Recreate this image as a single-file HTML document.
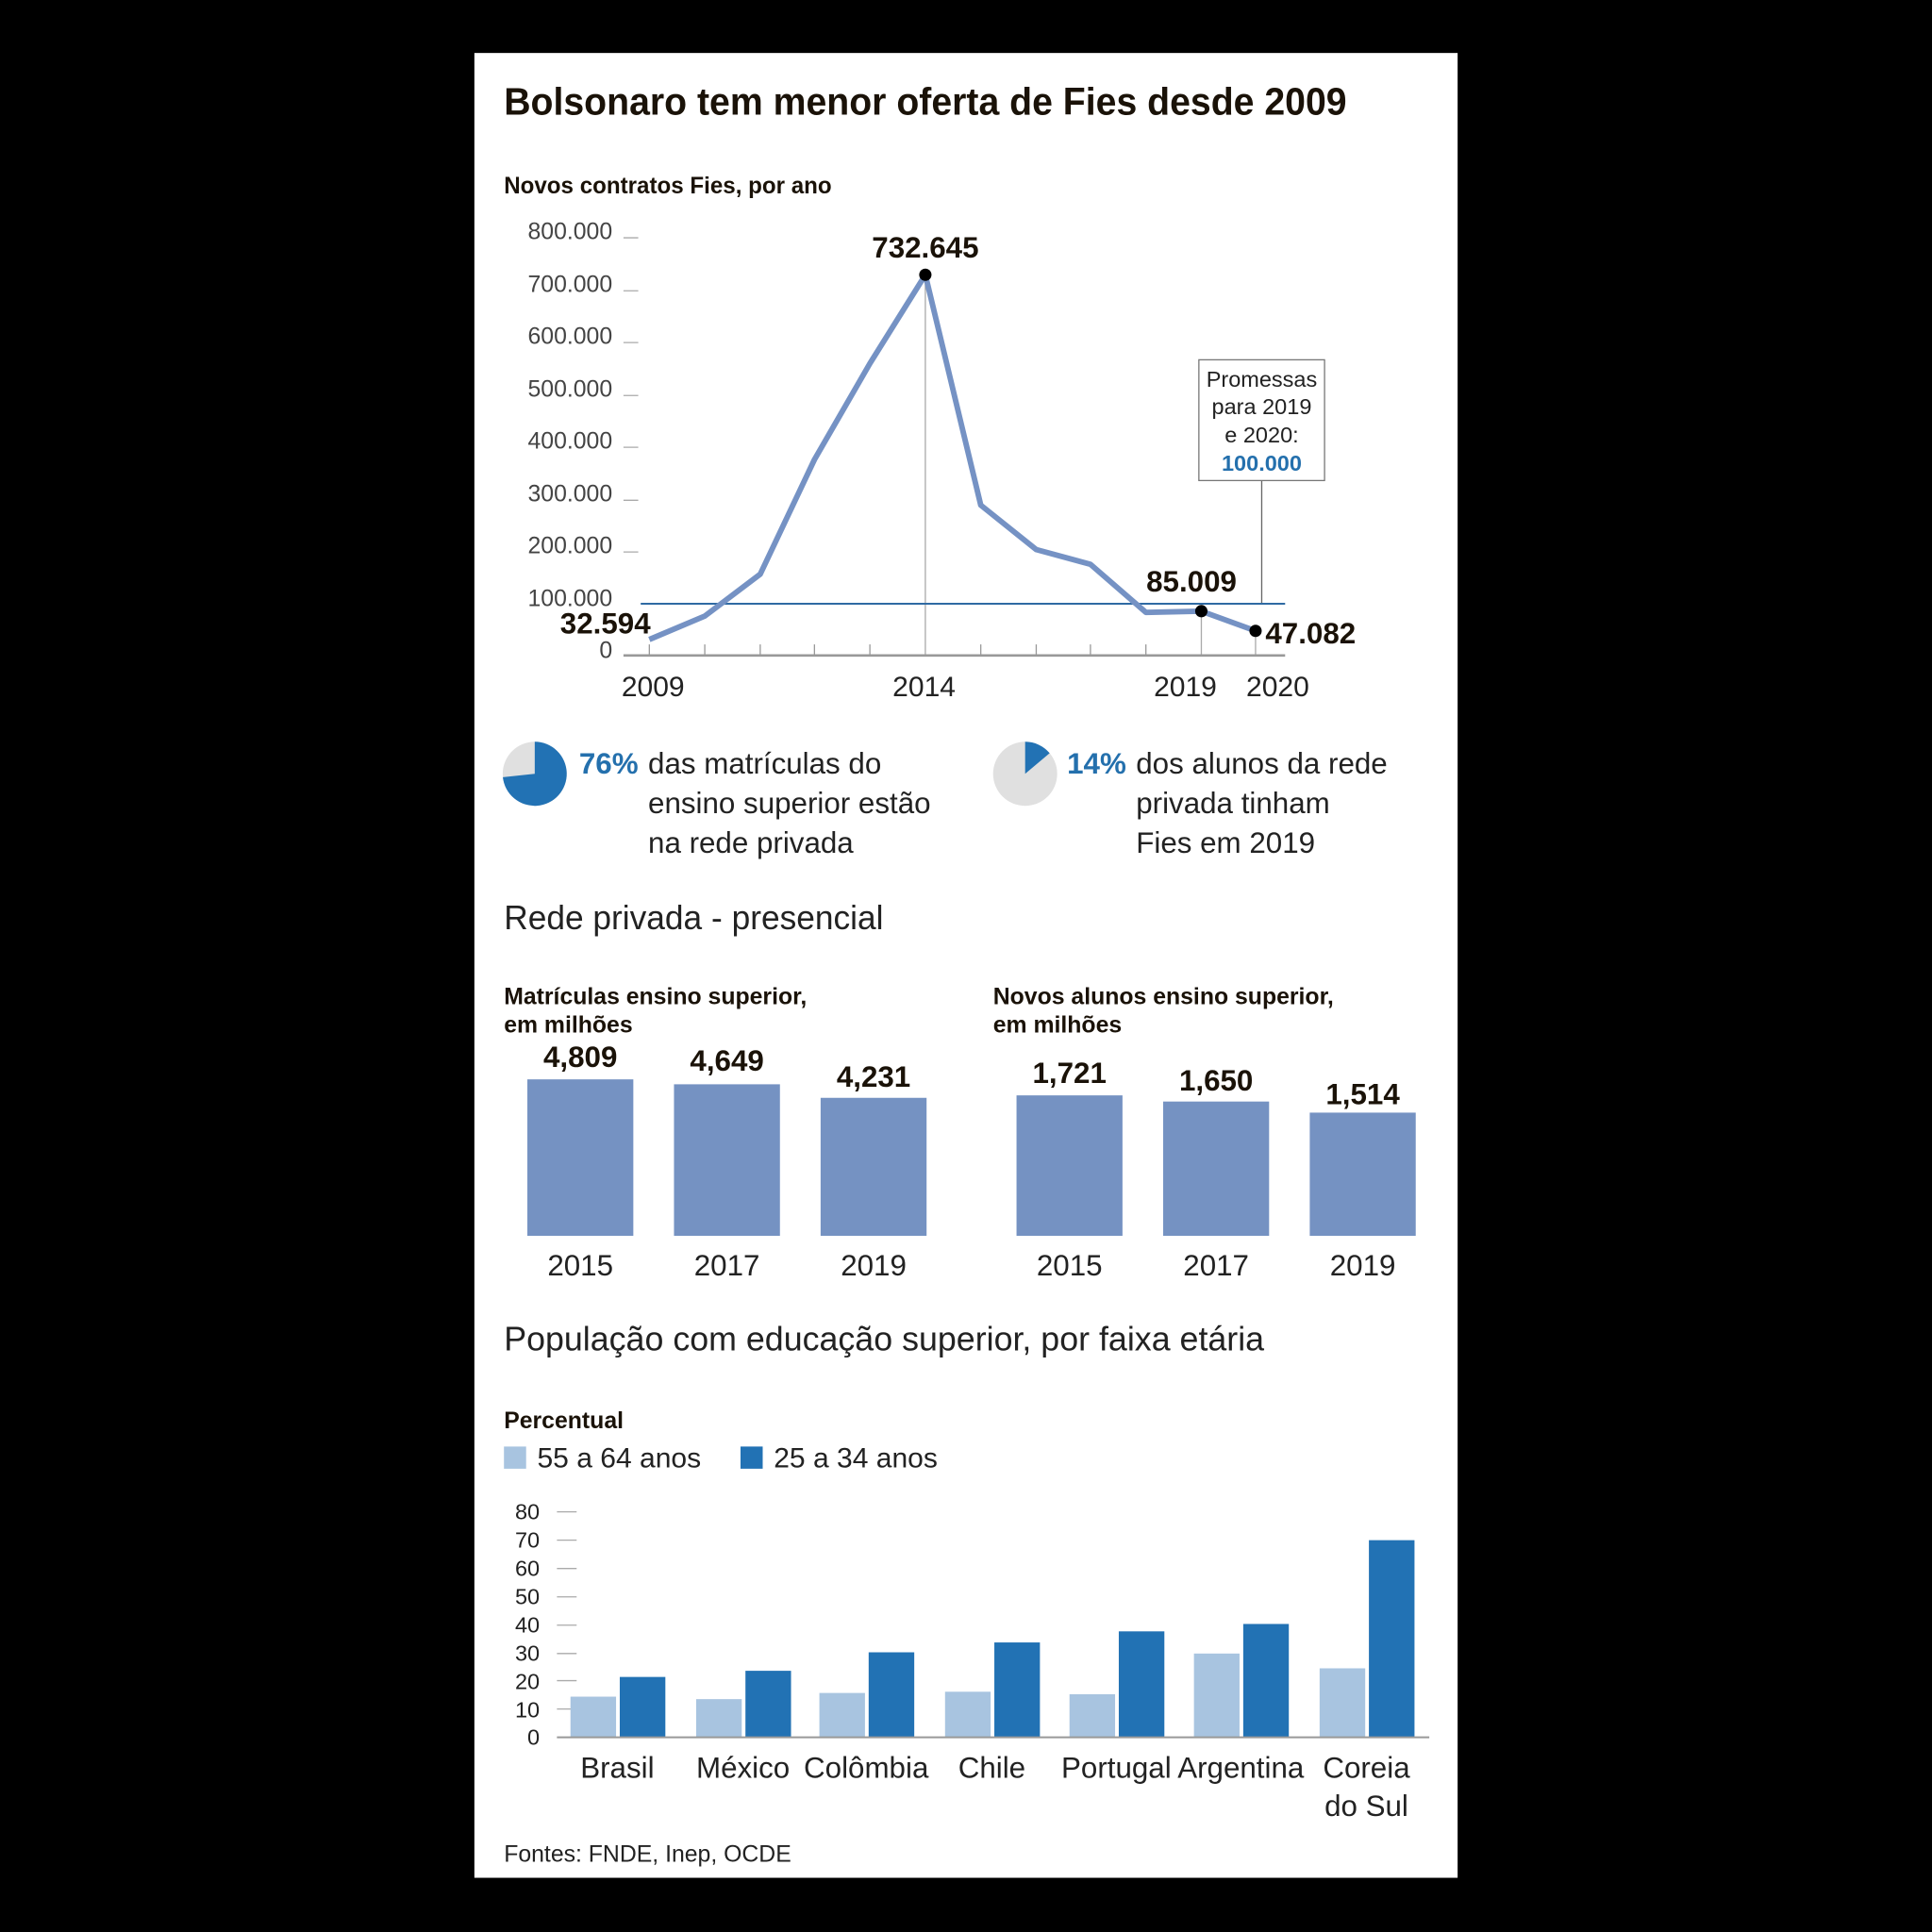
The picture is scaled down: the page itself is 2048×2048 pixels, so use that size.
<!DOCTYPE html>
<html><head><meta charset="utf-8"><style>
html,body{margin:0;padding:0;background:#000;}
svg{display:block}
text{font-family:"Liberation Sans Narrow","Liberation Sans",sans-serif;fill:#222}
.b{font-weight:bold;fill:#1a1208}
.ax{fill:#444;font-size:19px}
</style></head><body>
<svg width="2048" height="2048" viewBox="0 0 1568 1568" xmlns="http://www.w3.org/2000/svg">
<rect x="0" y="0" width="1568" height="1568" fill="#000"/>
<rect x="385" y="43" width="798" height="1481" fill="#fff"/>
<text x="409" y="93" class="b" font-size="31" textLength="684" lengthAdjust="spacingAndGlyphs">Bolsonaro tem menor oferta de Fies desde 2009</text>
<text x="409" y="157" class="b" font-size="19" textLength="266" lengthAdjust="spacingAndGlyphs">Novos contratos Fies, por ano</text>
<g class="ax" text-anchor="end">
<text x="497" y="194" class="ax">800.000</text>
<text x="497" y="237" class="ax">700.000</text>
<text x="497" y="279" class="ax">600.000</text>
<text x="497" y="322" class="ax">500.000</text>
<text x="497" y="364" class="ax">400.000</text>
<text x="497" y="407" class="ax">300.000</text>
<text x="497" y="449" class="ax">200.000</text>
<text x="497" y="492" class="ax">100.000</text>
<text x="497" y="534" class="ax">0</text>
</g>
<g stroke="#aaa" stroke-width="1">
<line x1="506" x2="518" y1="193" y2="193"/><line x1="506" x2="518" y1="236" y2="236"/>
<line x1="506" x2="518" y1="278" y2="278"/><line x1="506" x2="518" y1="321" y2="321"/>
<line x1="506" x2="518" y1="363" y2="363"/><line x1="506" x2="518" y1="406" y2="406"/>
<line x1="506" x2="518" y1="448" y2="448"/>
<line x1="751" x2="751" y1="223" y2="532"/>
<line x1="975" x2="975" y1="496" y2="532"/>
<line x1="1019" x2="1019" y1="512" y2="532"/>
<line x1="1024" x2="1024" y1="390" y2="490" stroke="#666"/>
</g>
<g stroke="#999" stroke-width="1">
<line x1="527" x2="527" y1="523" y2="532"/><line x1="572" x2="572" y1="523" y2="532"/>
<line x1="617" x2="617" y1="523" y2="532"/><line x1="661" x2="661" y1="523" y2="532"/>
<line x1="706" x2="706" y1="523" y2="532"/><line x1="796" x2="796" y1="523" y2="532"/>
<line x1="841" x2="841" y1="523" y2="532"/><line x1="885" x2="885" y1="523" y2="532"/>
<line x1="930" x2="930" y1="523" y2="532"/>
</g>
<line x1="506" x2="1043" y1="532" y2="532" stroke="#999" stroke-width="2"/>
<line x1="520" x2="1043" y1="490" y2="490" stroke="#2f6aa3" stroke-width="1.5"/>
<polyline fill="none" stroke="#7592c4" stroke-width="4.5" stroke-linejoin="round" points="527,519 572,500 617,466 661,373 706,295 751,223 796,410 841,446 885,458 930,497 975,496 1019,512"/>
<circle cx="751" cy="223" r="5" fill="#000"/><circle cx="975" cy="496" r="5" fill="#000"/><circle cx="1019" cy="512" r="5" fill="#000"/>
<text x="751" y="209" class="b" font-size="24" text-anchor="middle">732.645</text>
<text x="967" y="480" class="b" font-size="24" text-anchor="middle">85.009</text>
<text x="1027" y="522" class="b" font-size="24">47.082</text>
<text x="528" y="514" class="b" font-size="24" text-anchor="end">32.594</text>
<rect x="973" y="292" width="102" height="98" fill="#fff" stroke="#777" stroke-width="1"/>
<g text-anchor="middle" font-size="18">
<text x="1024" y="314" fill="#444">Promessas</text>
<text x="1024" y="336" fill="#444">para 2019</text>
<text x="1024" y="359" fill="#444">e 2020:</text>
<text x="1024" y="382" class="b" style="fill:#2470ad">100.000</text>
</g>
<g font-size="23" text-anchor="middle" fill="#222">
<text x="530" y="565">2009</text><text x="750" y="565">2014</text><text x="962" y="565">2019</text><text x="1037" y="565">2020</text>
</g>
<circle cx="434" cy="628" r="26" fill="#e0e0e0"/>
<path d="M434,628 L434,602 A26,26 0 1 1 408.1,630.8 Z" fill="#2272b4"/>
<circle cx="832" cy="628" r="26" fill="#e0e0e0"/>
<path d="M832,628 L832,602 A26,26 0 0 1 851.9,611.3 Z" fill="#2272b4"/>
<g font-size="24">
<text x="470" y="628" class="b" style="fill:#2470ad">76%</text>
<text x="526" y="628">das matrículas do</text>
<text x="526" y="660">ensino superior estão</text>
<text x="526" y="692">na rede privada</text>
<text x="866" y="628" class="b" style="fill:#2470ad">14%</text>
<text x="922" y="628">dos alunos da rede</text>
<text x="922" y="660">privada tinham</text>
<text x="922" y="692">Fies em 2019</text>
</g>
<text x="409" y="754" font-size="28" fill="#333" textLength="308" lengthAdjust="spacingAndGlyphs">Rede privada - presencial</text>
<g class="b" font-size="19">
<text x="409" y="815" class="b">Matrículas ensino superior,</text>
<text x="409" y="838" class="b">em milhões</text>
<text x="806" y="815" class="b">Novos alunos ensino superior,</text>
<text x="806" y="838" class="b">em milhões</text>
</g>
<g fill="#7592c2">
<rect x="428" y="876" width="86" height="127"/><rect x="547" y="880" width="86" height="123"/><rect x="666" y="891" width="86" height="112"/>
<rect x="825" y="889" width="86" height="114"/><rect x="944" y="894" width="86" height="109"/><rect x="1063" y="903" width="86" height="100"/>
</g>
<g text-anchor="middle" font-size="24">
<text x="471" y="866" class="b">4,809</text><text x="590" y="869" class="b">4,649</text><text x="709" y="882" class="b">4,231</text>
<text x="868" y="879" class="b">1,721</text><text x="987" y="885" class="b">1,650</text><text x="1106" y="896" class="b">1,514</text>
<text x="471" y="1035">2015</text><text x="590" y="1035">2017</text><text x="709" y="1035">2019</text>
<text x="868" y="1035">2015</text><text x="987" y="1035">2017</text><text x="1106" y="1035">2019</text>
</g>
<text x="409" y="1096" font-size="28" fill="#333" textLength="617" lengthAdjust="spacingAndGlyphs">População com educação superior, por faixa etária</text>
<text x="409" y="1159" class="b" font-size="19">Percentual</text>
<rect x="409" y="1174" width="18" height="18" fill="#a8c4e0"/>
<text x="436" y="1191" font-size="23">55 a 64 anos</text>
<rect x="601" y="1174" width="18" height="18" fill="#2272b4"/>
<text x="628" y="1191" font-size="23">25 a 34 anos</text>
<g text-anchor="end" font-size="18" fill="#333">
<text x="438" y="1233">80</text><text x="438" y="1256">70</text><text x="438" y="1279">60</text><text x="438" y="1302">50</text>
<text x="438" y="1325">40</text><text x="438" y="1348">30</text><text x="438" y="1371">20</text><text x="438" y="1394">10</text><text x="438" y="1416">0</text>
</g>
<g stroke="#aaa">
<line x1="452" x2="468" y1="1227" y2="1227"/><line x1="452" x2="468" y1="1250" y2="1250"/><line x1="452" x2="468" y1="1273" y2="1273"/>
<line x1="452" x2="468" y1="1296" y2="1296"/><line x1="452" x2="468" y1="1319" y2="1319"/><line x1="452" x2="468" y1="1342" y2="1342"/>
<line x1="452" x2="468" y1="1364" y2="1364"/><line x1="452" x2="468" y1="1387" y2="1387"/>
</g>
<g fill="#a8c4e0">
<rect x="463" y="1377" width="37" height="33"/><rect x="565" y="1379" width="37" height="31"/><rect x="665" y="1374" width="37" height="36"/>
<rect x="767" y="1373" width="37" height="37"/><rect x="868" y="1375" width="37" height="35"/><rect x="969" y="1342" width="37" height="68"/>
<rect x="1071" y="1354" width="37" height="56"/>
</g>
<g fill="#2272b4">
<rect x="503" y="1361" width="37" height="49"/><rect x="605" y="1356" width="37" height="54"/><rect x="705" y="1341" width="37" height="69"/>
<rect x="807" y="1333" width="37" height="77"/><rect x="908" y="1324" width="37" height="86"/><rect x="1009" y="1318" width="37" height="92"/>
<rect x="1111" y="1250" width="37" height="160"/>
</g>
<line x1="452" x2="1160" y1="1410" y2="1410" stroke="#999" stroke-width="1.5"/>
<g text-anchor="middle" font-size="24">
<text x="501" y="1443">Brasil</text><text x="603" y="1443">México</text><text x="703" y="1443">Colômbia</text>
<text x="805" y="1443">Chile</text><text x="906" y="1443">Portugal</text><text x="1007" y="1443">Argentina</text>
<text x="1109" y="1443">Coreia</text><text x="1109" y="1474">do Sul</text>
</g>
<text x="409" y="1511" font-size="19" fill="#555">Fontes: FNDE, Inep, OCDE</text>
</svg>
</body></html>
